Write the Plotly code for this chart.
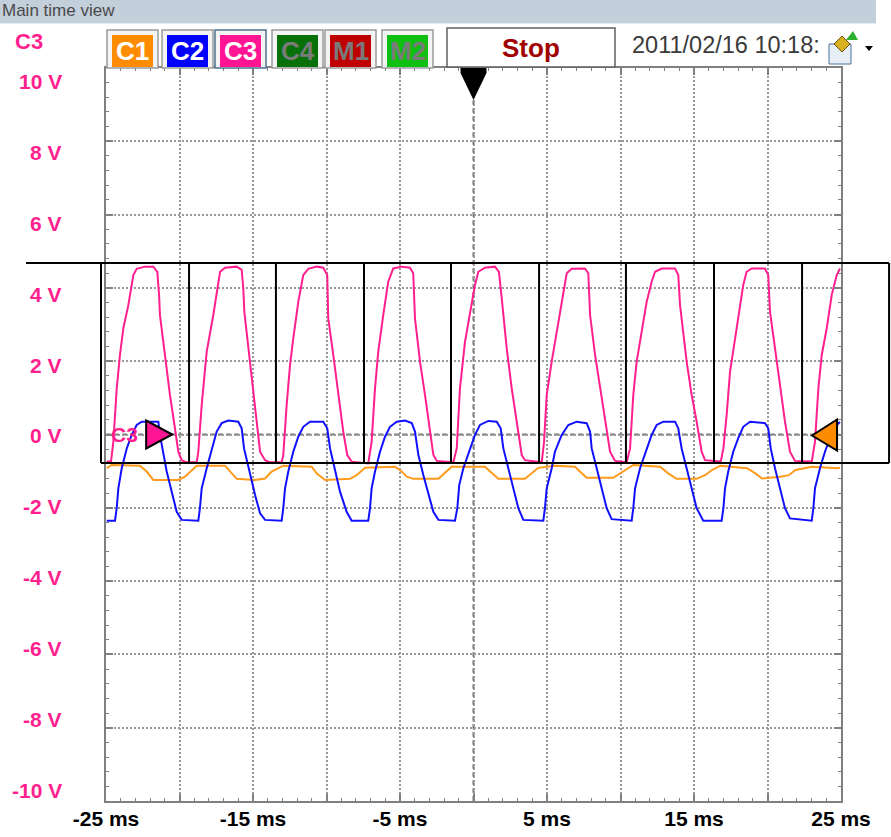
import plotly.graph_objects as go

# ---------------- data ----------------
time_range_ms = [-25, 25]
volt_range = [-10, 10]
x_tick_vals = [-25, -20, -15, -10, -5, 0, 5, 10, 15, 20, 25]
x_tick_text = ["-25 ms", "", "-15 ms", "", "-5 ms", "", "5 ms", "", "15 ms", "", "25 ms"]
y_tick_vals = [10, 8, 6, 4, 2, 0, -2, -4, -6, -8, -10]
y_tick_text = ["10 V", "8 V", "6 V", "4 V", "2 V", "0 V", "-2 V", "-4 V", "-6 V", "-8 V", "-10 V"]

# C3 (pink)
c3_t = [-24.95, -24.66, -24.50, -24.27, -24.05, -23.82, -23.48, -23.14, -22.91, -22.35, -21.78, -21.51, -21.39, -21.33, -20.99, -20.65, -20.31, -20.08, -19.85, -19.51, -18.83,
        -18.72, -18.49, -18.15, -17.70, -17.43, -17.24, -16.90, -16.11, -15.77, -15.66, -15.59, -15.20, -14.86, -14.52, -14.18, -13.84, -13.05,
        -12.94, -12.71, -12.48, -12.26, -11.92, -11.58, -11.24, -10.67, -10.22, -9.95, -9.88, -9.54, -9.20, -8.86, -8.59, -8.29, -7.16,
        -6.93, -6.70, -6.48, -6.14, -5.80, -5.46, -4.88, -4.32, -4.10, -3.98, -3.64, -3.30, -2.95, -2.73, -2.50, -1.37,
        -1.14, -0.92, -0.58, -0.24, 0.10, 0.33, 0.78, 1.46, 1.73, 1.92, 2.03, 2.26, 2.60, 2.94, 3.28, 3.50, 4.64,
        4.80, 4.98, 5.32, 5.77, 6.11, 6.34, 6.68, 7.58, 7.81, 7.93, 8.27, 8.61, 8.95, 9.29, 9.63, 10.42,
        10.65, 10.87, 11.10, 11.44, 11.78, 12.12, 12.35, 12.80, 13.71, 13.93, 14.05, 14.50, 14.84, 15.18, 15.52, 15.75, 16.82,
        17.00, 17.22, 17.45, 17.79, 18.13, 18.35, 18.58, 18.93, 19.83, 20.05, 20.17, 20.51, 20.85, 21.19, 21.53, 21.87, 23.01,
        23.23, 23.46, 23.69, 24.03, 24.37, 24.71, 24.93]
c3_v = [-0.74, -0.74, -0.20, 1.26, 2.17, 2.90, 3.53, 4.35, 4.52, 4.58, 4.58, 4.44, 3.81, 3.26, 2.17, 1.08, 0.17, -0.47, -0.70, -0.76, -0.76,
        -0.47, 0.80, 2.26, 3.26, 3.99, 4.44, 4.55, 4.58, 4.49, 3.99, 3.35, 1.90, 0.62, -0.47, -0.70, -0.76, -0.76,
        -0.56, 0.80, 1.90, 2.62, 3.62, 4.35, 4.52, 4.58, 4.55, 4.35, 3.17, 2.17, 1.08, 0.08, -0.56, -0.74, -0.79,
        -0.20, 1.26, 2.26, 3.26, 4.17, 4.53, 4.58, 4.55, 4.40, 3.17, 1.99, 1.08, 0.08, -0.56, -0.72, -0.76,
        -0.38, 1.26, 2.53, 3.26, 4.08, 4.44, 4.55, 4.58, 4.44, 3.72, 3.26, 2.35, 1.26, 0.35, -0.56, -0.70, -0.76,
        -0.20, 1.08, 1.99, 3.08, 3.81, 4.40, 4.52, 4.53, 4.40, 3.26, 2.17, 1.26, 0.35, -0.47, -0.72, -0.76,
        -0.38, 1.08, 1.99, 2.80, 3.62, 4.17, 4.44, 4.53, 4.53, 4.35, 3.53, 1.99, 1.08, 0.35, -0.47, -0.70, -0.74,
        -0.38, 0.53, 1.71, 2.62, 3.44, 4.08, 4.44, 4.53, 4.53, 4.35, 3.35, 2.35, 1.26, 0.35, -0.47, -0.72, -0.74,
        -0.20, 1.26, 2.17, 2.90, 3.81, 4.35, 4.53]

# C2 (blue)
c2_t = [-24.95, -24.39, -24.27, -24.16, -23.93, -23.59, -23.25, -22.91, -22.57, -21.44, -21.33, -21.10, -20.87, -20.53, -20.19, -19.85,
        -18.72, -18.61, -18.49, -18.15, -17.81, -17.47, -17.13, -16.68, -16.00, -15.77, -15.61, -15.20, -14.86, -14.52, -14.18,
        -13.05, -12.94, -12.82, -12.60, -12.26, -11.92, -11.58, -11.12, -10.22, -9.95, -9.76, -9.42, -9.08, -8.63, -8.29,
        -7.16, -7.04, -6.93, -6.70, -6.36, -6.02, -5.68, -5.22, -4.66, -4.20, -3.98, -3.75, -3.41, -3.07, -2.73, -2.39,
        -1.26, -1.10, -0.97, -0.69, -0.24, 0.10, 0.44, 1.01, 1.58, 1.85, 2.03, 2.37, 2.71, 3.05, 3.39,
        4.75, 4.86, 4.98, 5.32, 5.54, 6.00, 6.45, 7.02, 7.70, 7.93, 8.04, 8.38, 8.72, 9.06, 9.40,
        10.76, 10.87, 10.99, 11.33, 11.78, 12.12, 12.46, 12.91, 13.71, 13.93, 14.16, 14.50, 14.84, 15.18, 15.63,
        16.88, 17.00, 17.11, 17.33, 17.67, 18.01, 18.35, 18.81, 19.83, 20.05, 20.22, 20.51, 20.85, 21.19, 21.53,
        23.01, 23.12, 23.23, 23.57, 23.91, 24.25, 24.71, 24.93]
c2_v = [-2.35, -2.35, -2.01, -1.47, -0.92, -0.38, -0.01, 0.26, 0.35, 0.35, -0.01, -0.56, -1.01, -1.56, -2.11, -2.33,
        -2.35, -2.01, -1.47, -0.92, -0.38, 0.08, 0.31, 0.38, 0.35, 0.17, -0.38, -1.11, -1.65, -2.15, -2.33,
        -2.35, -2.01, -1.47, -1.01, -0.47, -0.06, 0.21, 0.35, 0.35, 0.17, -0.38, -1.01, -1.56, -2.11, -2.35,
        -2.35, -2.01, -1.47, -1.01, -0.47, -0.06, 0.21, 0.35, 0.38, 0.31, 0.08, -0.56, -1.11, -1.65, -2.11, -2.33,
        -2.35, -2.01, -1.38, -0.92, -0.38, -0.01, 0.26, 0.37, 0.35, 0.17, -0.38, -0.92, -1.47, -2.01, -2.33,
        -2.35, -2.01, -1.47, -0.92, -0.47, -0.01, 0.26, 0.35, 0.31, 0.08, -0.38, -0.92, -1.47, -2.01, -2.31,
        -2.35, -2.01, -1.47, -0.92, -0.38, -0.01, 0.26, 0.35, 0.35, 0.17, -0.38, -0.92, -1.47, -2.01, -2.35,
        -2.35, -2.01, -1.47, -1.01, -0.47, -0.10, 0.21, 0.35, 0.31, 0.17, -0.38, -0.92, -1.47, -2.01, -2.29,
        -2.35, -2.01, -1.47, -0.92, -0.47, -0.10, 0.26, 0.34]

# C1 (orange)
c1_t = [-24.95, -24.61, -22.69, -22.23, -21.78, -20.08, -19.63, -19.17, -18.83, -16.90, -16.56, -16.11, -14.86, -14.18, -13.73,
        -13.16, -12.94, -11.01, -10.67, -10.10, -8.40, -7.95, -7.38, -5.34, -4.88, -4.54, -4.10, -2.39, -1.94, -1.48,
        0.78, 1.24, 1.69, 3.50, 3.96, 4.41, 5.54, 6.90, 7.24, 7.70, 9.51, 9.97, 10.53, 10.87, 12.69, 13.25, 13.82,
        15.18, 15.75, 16.22, 16.79, 18.61, 19.17, 19.63, 20.88, 21.45, 21.90, 22.47, 23.03, 24.71, 24.93]
c1_v = [-0.92, -0.83, -0.85, -1.01, -1.24, -1.24, -1.15, -0.97, -0.85, -0.85, -1.01, -1.21, -1.24, -1.20, -1.01,
        -0.88, -0.85, -0.88, -1.06, -1.24, -1.21, -1.11, -0.91, -0.88, -1.01, -1.15, -1.21, -1.21, -1.06, -0.88,
        -0.88, -1.06, -1.21, -1.21, -1.06, -0.91, -0.85, -0.88, -1.01, -1.18, -1.18, -1.06, -0.91, -0.83, -0.88, -1.06, -1.21,
        -1.21, -1.11, -0.97, -0.85, -0.92, -1.06, -1.20, -1.15, -1.11, -0.97, -0.92, -0.88, -0.92, -0.91]

# overlay box drawn on the screenshot (in ms / V)
box_edges_ms = [-25.34, -19.35, -13.44, -7.45, -1.53, 4.46, 10.37, 16.36, 22.35, 28.27]
box_top_v = 4.68
box_bottom_v = -0.78
box_top_start_ms = -30.44

channel_buttons = ["C1", "C2", "C3", "C4", "M1", "M2"]
trigger_time_ms = 0
c3_marker_ms = -20.5
c1_marker_ms = 23.03
header_title = "Main time view"
status_text = "Stop"
date_text = "2011/02/16 10:18:"

# ---------------- styling ----------------
W, H = 891, 837
PL, PR, PT, PB = 106, 841, 68, 801
PINK = "#FF1F8E"
BLUE = "#1010FF"
ORANGE = "#FF9A1A"
FONT = "Liberation Sans, Arial, sans-serif"


def fx(px):
    return (px - PL) / (PR - PL)


def fy(py):
    return (PB - py) / (PB - PT)


def t2p(t):
    return (t - time_range_ms[0]) / (time_range_ms[1] - time_range_ms[0])


def v2p(v):
    return (v - volt_range[0]) / (volt_range[1] - volt_range[0])


fig = go.Figure()
fig.add_trace(go.Scatter(x=c1_t, y=c1_v, mode="lines", line=dict(color=ORANGE, width=2), hoverinfo="skip"))
fig.add_trace(go.Scatter(x=c2_t, y=c2_v, mode="lines", line=dict(color=BLUE, width=2), hoverinfo="skip"))
fig.add_trace(go.Scatter(x=c3_t, y=c3_v, mode="lines", line=dict(color=PINK, width=2), hoverinfo="skip"))

shapes = []
# centre dashed lines
shapes.append(dict(type="line", xref="x", yref="paper", x0=0, x1=0, y0=0, y1=1,
                   line=dict(color="#777777", width=2, dash="5px,3px"), layer="below"))
shapes.append(dict(type="line", xref="paper", yref="y", x0=0, x1=1, y0=0, y1=0,
                   line=dict(color="#777777", width=2, dash="5px,3px"), layer="below"))

# header band
shapes.append(dict(type="rect", xref="paper", yref="paper", x0=fx(0), x1=fx(876), y0=fy(23), y1=fy(0),
                   fillcolor="#C3CFDB", line=dict(width=0), layer="below"))
shapes.append(dict(type="line", xref="paper", yref="paper", x0=fx(0), x1=fx(876), y0=fy(23.5), y1=fy(23.5),
                   line=dict(color="#E6ECF2", width=1)))

# channel buttons
btn_left = [112, 167, 220, 277, 330, 387]
btn_fill = ["#FF8C00", "#0000FF", "#FF1493", "#087008", "#C00000", "#10C010"]
btn_text = ["white", "white", "white", "#7A7A7A", "#7A7A7A", "#7A7A7A"]
for i, name in enumerate(channel_buttons):
    x0 = btn_left[i]
    border = "#4E7090" if name == "C3" else "#9A9A9A"
    shapes.append(dict(type="rect", xref="paper", yref="paper", x0=fx(x0 - 5), x1=fx(x0 + 46), y0=fy(68), y1=fy(30),
                       fillcolor="#F4F4F4", line=dict(color=border, width=1.5)))
    shapes.append(dict(type="rect", xref="paper", yref="paper", x0=fx(x0), x1=fx(x0 + 41), y0=fy(67), y1=fy(35),
                       fillcolor=btn_fill[i], line=dict(width=0)))
    fig.add_annotation(x=fx(x0 + 20.5), y=fy(51), xref="paper", yref="paper", text=name, showarrow=False,
                       font=dict(family=FONT, size=26, color=btn_text[i], weight="bold"),
                       xanchor="center", yanchor="middle")

# stop box
shapes.append(dict(type="rect", xref="paper", yref="paper", x0=fx(447), x1=fx(615), y0=fy(67), y1=fy(28),
                   fillcolor="white", line=dict(color="#606060", width=1.5)))
fig.add_annotation(x=fx(531), y=fy(48), xref="paper", yref="paper", text=status_text, showarrow=False,
                   font=dict(family=FONT, size=26, color="#A00000", weight="bold"), xanchor="center", yanchor="middle")
fig.add_annotation(x=fx(630), y=fy(45), xref="paper", yref="paper", text=date_text, showarrow=False,
                   font=dict(family=FONT, size=23.5, color="#3A3A3A"), xanchor="left", yanchor="middle")
fig.add_annotation(x=fx(0), y=fy(11), xref="paper", yref="paper", text=header_title, showarrow=False,
                   font=dict(family=FONT, size=17, color="#4A4A4A"), xanchor="left", yanchor="middle")
fig.add_annotation(x=fx(13), y=fy(42), xref="paper", yref="paper", text="C3", showarrow=False,
                   font=dict(family=FONT, size=22, color=PINK, weight="bold"), xanchor="left", yanchor="middle")

# small icon in header
shapes.append(dict(type="rect", xref="paper", yref="paper", x0=fx(829), x1=fx(851), y0=fy(64), y1=fy(44),
                   fillcolor="#E8EEF6", line=dict(color="#4A6E9A", width=1)))
shapes.append(dict(type="path", xref="paper", yref="paper",
                   path=f"M{fx(834)},{fy(44)} L{fx(842)},{fy(36)} L{fx(850)},{fy(44)} L{fx(842)},{fy(52)} Z",
                   fillcolor="#D8B020", line=dict(color="#6A5010", width=1)))
shapes.append(dict(type="path", xref="paper", yref="paper",
                   path=f"M{fx(846)},{fy(40)} L{fx(853)},{fy(31)} L{fx(858)},{fy(40)} Z",
                   fillcolor="#30B030", line=dict(width=0)))
shapes.append(dict(type="path", xref="paper", yref="paper",
                   path=f"M{fx(865)},{fy(46)} L{fx(873)},{fy(46)} L{fx(869)},{fy(51)} Z",
                   fillcolor="black", line=dict(width=0)))

# overlay rectangle grid (black)
box_line = dict(color="black", width=2)
shapes.append(dict(type="line", xref="paper", yref="paper", x0=t2p(box_top_start_ms), x1=t2p(box_edges_ms[-1]),
                   y0=v2p(box_top_v), y1=v2p(box_top_v), line=box_line))
shapes.append(dict(type="line", xref="paper", yref="paper", x0=t2p(box_edges_ms[0]), x1=t2p(box_edges_ms[-1]),
                   y0=v2p(box_bottom_v), y1=v2p(box_bottom_v), line=box_line))
for e in box_edges_ms:
    shapes.append(dict(type="line", xref="paper", yref="paper", x0=t2p(e), x1=t2p(e),
                       y0=v2p(box_bottom_v), y1=v2p(box_top_v), line=box_line))

# markers: trigger, C3 offset, C1 offset
shapes.append(dict(type="path", xref="x", yref="y", xsizemode="pixel", ysizemode="pixel",
                   xanchor=trigger_time_ms, yanchor=volt_range[1],
                   path="M-13,0 L13,0 L13,-5 L0,-32 L-13,-5 Z", fillcolor="black", line=dict(width=0)))
shapes.append(dict(type="path", xref="x", yref="y", xsizemode="pixel", ysizemode="pixel",
                   xanchor=c3_marker_ms, yanchor=0,
                   path="M0,0 L-26,14 L-26,-14 Z", fillcolor="#FF1493", line=dict(color="black", width=2)))
shapes.append(dict(type="path", xref="x", yref="y", xsizemode="pixel", ysizemode="pixel",
                   xanchor=c1_marker_ms, yanchor=0,
                   path="M0,-1 L25,15 L25,-16 Z", fillcolor="#FF8C00", line=dict(color="black", width=2)))
fig.add_annotation(x=c3_marker_ms - 2.2, y=0, xref="x", yref="y", text="C3", showarrow=False,
                   font=dict(family=FONT, size=21, color=PINK, weight="bold"), xanchor="right", yanchor="middle")

# y tick labels (evenly spaced as in the screenshot)
for i, txt in enumerate(y_tick_text):
    ypx = 82 + i * (790 - 82) / (len(y_tick_text) - 1)
    fig.add_annotation(x=fx(64), y=fy(ypx), xref="paper", yref="paper", text=txt, showarrow=False,
                       font=dict(family=FONT, size=21, color=PINK, weight="bold"), xanchor="right", yanchor="middle")

fig.update_layout(
    shapes=shapes,
    width=W, height=H,
    margin=dict(l=PL, r=W - PR, t=PT, b=H - PB),
    paper_bgcolor="white", plot_bgcolor="white",
    showlegend=False, hovermode=False,
)
fig.update_xaxes(range=time_range_ms, tickvals=x_tick_vals, ticktext=x_tick_text, automargin=False,
                 showgrid=True, gridcolor="#999999", gridwidth=2, griddash="2px,2px",
                 zeroline=False, showline=True, linecolor="#808080", linewidth=2, mirror="ticks",
                 ticks="inside", ticklen=7, tickwidth=2, tickcolor="#808080", ticklabelstandoff=-2,
                 minor=dict(dtick=1, ticks="inside", ticklen=3, tickcolor="#808080", tickwidth=1, showgrid=False),
                 tickfont=dict(family=FONT, size=21, color="black", weight="bold"), fixedrange=True)
fig.update_yaxes(range=volt_range, tickvals=y_tick_vals, showticklabels=False, automargin=False,
                 showgrid=True, gridcolor="#999999", gridwidth=2, griddash="2px,2px",
                 zeroline=False, showline=True, linecolor="#808080", linewidth=2, mirror="ticks",
                 ticks="inside", ticklen=7, tickwidth=2, tickcolor="#808080",
                 minor=dict(dtick=0.4, ticks="inside", ticklen=3, tickcolor="#808080", tickwidth=1, showgrid=False),
                 fixedrange=True)

fig.write_html("out.html", config={"displayModeBar": False},
               post_script="document.body.style.margin='0';document.body.style.overflow='hidden';")
